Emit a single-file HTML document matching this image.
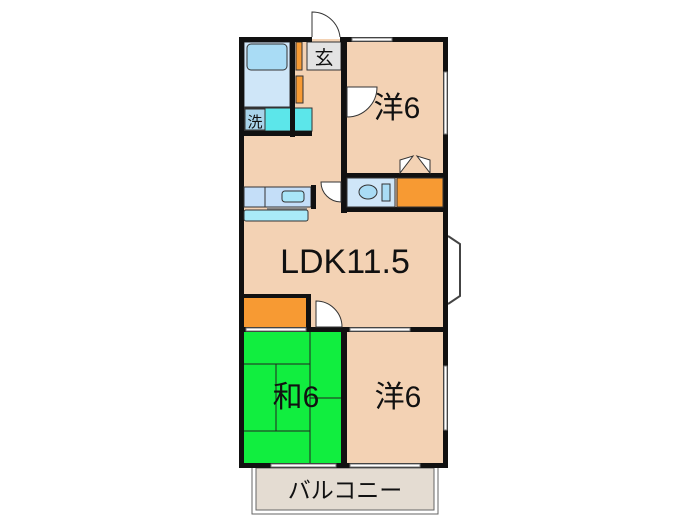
<!DOCTYPE html>
<html><head><meta charset="utf-8"><style>
html,body{margin:0;padding:0;background:#fff;width:700px;height:525px;overflow:hidden}
svg{display:block}
text{font-family:"Liberation Sans","Noto Sans CJK JP",sans-serif;fill:#111}
</style></head><body>
<svg width="700" height="525" viewBox="0 0 700 525" xmlns="http://www.w3.org/2000/svg">
<rect x="252" y="467" width="186" height="47" fill="#fff" stroke="#666" stroke-width="1"/>
<rect x="256" y="468" width="178" height="42" fill="#e4dcd2" stroke="#666" stroke-width="1"/>
<text x="345" y="498" font-size="23" text-anchor="middle">バルコニー</text>
<rect x="241" y="39" width="205" height="427" fill="#f3d2b4"/>
<path d="M448 236 L460 244 L460 296 L448 304" fill="#fff" stroke="#444" stroke-width="2"/>
<rect x="244" y="42" width="46" height="65" fill="#cfe6f8" stroke="#333" stroke-width="1"/>
<rect x="247" y="44" width="40" height="26" rx="4" fill="#a9dcf5" stroke="#333" stroke-width="1"/>
<rect x="244" y="108" width="68" height="23" fill="#5ce6ea" stroke="#333" stroke-width="1"/>
<rect x="245" y="109" width="20" height="21" fill="#a9d4ea" stroke="#333" stroke-width="1"/>
<text x="255" y="127" font-size="15" text-anchor="middle">洗</text>
<rect x="296" y="42" width="6" height="28" fill="#f79a33" stroke="#333" stroke-width="1"/>
<rect x="296" y="76" width="7" height="27" fill="#f79a33" stroke="#333" stroke-width="1"/>
<rect x="307" y="42" width="34" height="28" fill="#e3e3e3" stroke="#333" stroke-width="1"/>
<text x="324" y="64" font-size="19" text-anchor="middle">玄</text>
<path d="M312 37 L312 12 A28 28 0 0 1 340 37" fill="#fff" stroke="#333" stroke-width="1"/>
<g fill="#111">
<rect x="239" y="37" width="73" height="5"/>
<rect x="340" y="37" width="108" height="5"/>
<rect x="239" y="37" width="5" height="431"/>
<rect x="443" y="37" width="5" height="431"/>
<rect x="239" y="463" width="209" height="5"/>
<rect x="290" y="37" width="5" height="100"/>
<rect x="239" y="131" width="73" height="5"/>
<rect x="341" y="37" width="6" height="176"/>
<rect x="341" y="173" width="107" height="5"/>
<rect x="341" y="207" width="107" height="5"/>
<rect x="239" y="327" width="209" height="5"/>
<rect x="341" y="327" width="6" height="141"/>
<rect x="306" y="294" width="5" height="38"/>
<rect x="239" y="294" width="72" height="4"/>
</g>
<g fill="#fff" stroke="#777" stroke-width="1">
<rect x="352" y="38" width="40" height="3"/>
<rect x="444" y="72" width="3" height="62"/>
<rect x="444" y="366" width="3" height="64"/>
<rect x="271" y="464" width="65" height="3"/>
<rect x="350" y="464" width="70" height="3"/>
<rect x="246" y="328" width="60" height="3"/>
<rect x="350" y="328" width="60" height="3"/>
</g>
<path d="M347 87 L347 117 A30 30 0 0 0 377 87 Z" fill="#fff" stroke="#333" stroke-width="1"/>
<text x="397" y="118" font-size="30" text-anchor="middle">洋6</text>
<path d="M400 173 L400 160 L413 156 Z M430 173 L430 160 L417 156 Z" fill="#fff" stroke="#333"/>
<rect x="347" y="178" width="48" height="29" fill="#cfe6f8" stroke="#333" stroke-width="1"/>
<ellipse cx="368" cy="192" rx="9" ry="7" fill="#a9dcf5" stroke="#333"/>
<rect x="382" y="184" width="8" height="17" fill="#a9dcf5" stroke="#333"/>
<rect x="397" y="178" width="46" height="29" fill="#f79a33" stroke="#333" stroke-width="1"/>
<path d="M341 202 A20 20 0 0 1 321 182 L341 182 Z" fill="#fff" stroke="#333"/>
<rect x="244" y="187" width="67" height="20" fill="#c4def8" stroke="#333"/>
<line x1="265" y1="187" x2="265" y2="207" stroke="#333"/>
<rect x="282" y="191" width="22" height="11" rx="3" fill="#a9e6f8" stroke="#333"/>
<rect x="311" y="185" width="5" height="24" fill="#111"/>
<rect x="267" y="207" width="40" height="3" fill="#888"/>
<rect x="244" y="210" width="64" height="11" rx="2" fill="#a9eaf8" stroke="#333"/>
<text x="345" y="273" font-size="34" text-anchor="middle">LDK11.5</text>
<rect x="244" y="298" width="62" height="29" fill="#f79a33"/>
<path d="M316 327 L316 301 A26 26 0 0 1 342 327 Z" fill="#fff" stroke="#333"/>
<rect x="244" y="332" width="97" height="131" fill="#11ee3f"/>
<g stroke="#222" stroke-width="1">
<line x1="310" y1="332" x2="310" y2="463"/>
<line x1="244" y1="364" x2="310" y2="364"/>
<line x1="276" y1="364" x2="276" y2="431"/>
<line x1="244" y1="431" x2="310" y2="431"/>
<line x1="310" y1="398" x2="341" y2="398"/>
</g>
<text x="296" y="407" font-size="30" text-anchor="middle">和6</text>
<text x="398" y="407" font-size="30" text-anchor="middle">洋6</text>
</svg>
</body></html>
